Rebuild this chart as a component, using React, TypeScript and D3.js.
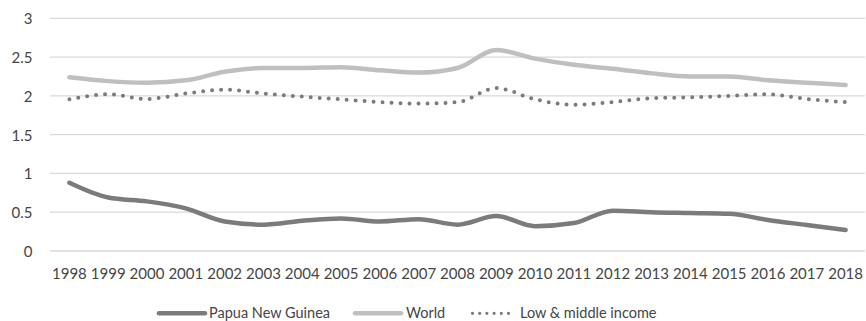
import React from "react";
import * as d3 from "d3";

const years = [
  "1998", "1999", "2000", "2001", "2002", "2003", "2004", "2005", "2006", "2007", "2008",
  "2009", "2010", "2011", "2012", "2013", "2014", "2015", "2016", "2017", "2018",
];

const papuaNewGuinea = [
  0.88, 0.69, 0.64, 0.55, 0.38, 0.34, 0.39, 0.42, 0.38, 0.41, 0.34,
  0.45, 0.32, 0.36, 0.52, 0.5, 0.49, 0.48, 0.4, 0.335, 0.27,
];

const world = [
  2.24, 2.19, 2.17, 2.2, 2.31, 2.36, 2.36, 2.37, 2.33, 2.3, 2.36,
  2.59, 2.48, 2.4, 2.35, 2.29, 2.25, 2.25, 2.2, 2.17, 2.14,
];

const lowMiddleIncome = [
  1.955, 2.02, 1.96, 2.03, 2.08, 2.03, 1.99, 1.955, 1.92, 1.9, 1.92,
  2.1, 1.955, 1.885, 1.92, 1.97, 1.98, 2.0, 2.02, 1.96, 1.92,
];

const yTicks = [0, 0.5, 1, 1.5, 2, 2.5, 3];

const WIDTH = 866;
const HEIGHT = 321;
const FONT = "Lato, sans-serif";
const TEXT_COLOR = "#454545";

type Series = {
  name: string;
  values: number[];
  color: string;
  width: number;
  dash?: string;
};

const series: Series[] = [
  { name: "Papua New Guinea", values: papuaNewGuinea, color: "#7b7b7b", width: 4.5 },
  { name: "World", values: world, color: "#bfbfbf", width: 4.5 },
  { name: "Low & middle income", values: lowMiddleIncome, color: "#7b7b7b", width: 4, dash: "0 9" },
];

export default function App() {
  const x = d3.scaleBand<string>().domain(years).range([50, 865]);
  const y = d3.scaleLinear().domain([0, 3]).range([251, 18.3]);
  const cx = (yr: string) => (x(yr) ?? 0) + x.bandwidth() / 2;

  const line = (vals: number[]) =>
    d3
      .line<number>()
      .x((_, i) => cx(years[i]))
      .y((v) => y(v))
      .curve(d3.curveMonotoneX)(vals) ?? "";

  const legendItems = [
    { s: series[0], x0: 159, x1: 205, tx: 209 },
    { s: series[1], x0: 355, x1: 401, tx: 406 },
    { s: series[2], x0: 472.5, x1: 510, tx: 520 },
  ];
  const legendY = 313.3;

  return (
    <svg
      width={WIDTH}
      height={HEIGHT}
      style={{ position: "absolute", left: 0, top: 0, background: "#fff" }}
      fontFamily={FONT}
    >
      {/* horizontal gridlines and value axis */}
      {yTicks.map((t) => (
        <g key={t}>
          <line x1={50} x2={865} y1={y(t)} y2={y(t)} stroke="#d9d9d9" strokeWidth={1.3} />
          <text
            x={32.5}
            y={y(t)}
            textAnchor="end"
            dominantBaseline="central"
            fontSize={15}
            fill={TEXT_COLOR}
          >
            {t}
          </text>
        </g>
      ))}

      {/* category axis labels */}
      {years.map((yr) => (
        <text key={yr} x={cx(yr)} y={279.3} textAnchor="middle" fontSize={15} fill={TEXT_COLOR}>
          {yr}
        </text>
      ))}

      {/* series lines */}
      {[series[1], series[2], series[0]].map((s) => (
        <path
          key={s.name}
          d={line(s.values)}
          fill="none"
          stroke={s.color}
          strokeWidth={s.width}
          strokeLinecap="round"
          strokeLinejoin="round"
          strokeDasharray={s.dash}
        />
      ))}

      {/* legend */}
      {legendItems.map(({ s, x0, x1, tx }) => (
        <g key={s.name}>
          <line
            x1={x0}
            x2={x1}
            y1={legendY}
            y2={legendY}
            stroke={s.color}
            strokeWidth={s.dash ? 3.2 : s.width}
            strokeLinecap="round"
            strokeDasharray={s.dash ? "0 7.2" : undefined}
          />
          <text x={tx} y={318.3} fontSize={14.5} fill={TEXT_COLOR}>
            {s.name}
          </text>
        </g>
      ))}
    </svg>
  );
}
